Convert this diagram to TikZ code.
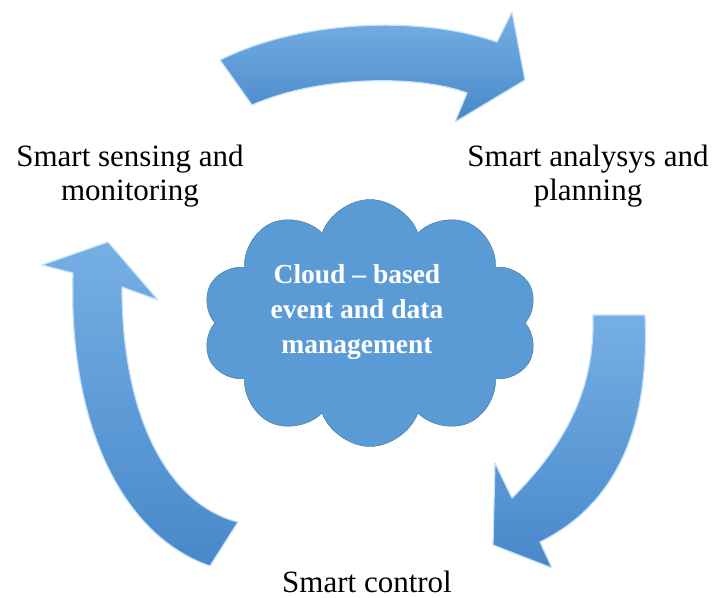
\documentclass[tikz,border=0pt]{standalone}
\usepackage{fontspec}
\setmainfont{Liberation Serif}
\usepackage{tikz}
\usetikzlibrary{shapes.symbols,positioning}

\definecolor{arrowtop}{RGB}{118,175,228}
\definecolor{arrowbot}{RGB}{72,136,202}
\definecolor{arrowrim}{RGB}{198,226,250}
\definecolor{cloudfill}{RGB}{91,155,213}
\definecolor{cloudrim}{RGB}{65,113,156}

\begin{document}
\begin{tikzpicture}[x=1pt,y=-1pt,line join=round]
\tikzstyle{every node}=[font=\fontsize{31}{34}\selectfont]
\tikzstyle{bigarrow}=[top color=arrowtop,bottom color=arrowbot,draw=arrowrim,line width=1.2pt]
\tikzstyle{stage}=[align=center,inner sep=0pt]

\useasboundingbox (0,0) rectangle (716,598);

        % the three curved arrows
        \path[bigarrow] (220,60) .. controls (300,20) and (420,15) .. (497,42)
            -- (512,12) -- (525,80) -- (455,122) -- (467,93)
            .. controls (420,75) and (320,75) .. (252,105) -- cycle;

        \path[bigarrow] (645,315) .. controls (650,430) and (615,505) .. (540,542)
            -- (552,568) -- (493,545) -- (495,463) -- (512,498)
            .. controls (565,445) and (595,390) .. (593,315) -- cycle;

        \path[bigarrow] (108,242) -- (158,300) -- (122,287)
            .. controls (122,420) and (170,505) .. (238,522)
            -- (210,566) .. controls (120,535) and (68,420) .. (73,273)
            -- (42,265) -- cycle;

        % cloud in the middle
        \node[cloud, cloud puffs=10, cloud puff arc=140, cloud ignores aspect, fill=cloudfill, draw=cloudrim,
              minimum width=336pt, minimum height=247pt, inner sep=0pt] (cloud) at (370,323) {};
        \node[align=center, text=white, font=\fontsize{27.5}{35}\selectfont\bfseries]
              (cloudtxt) at (357,312) {Cloud -- based\\event and data\\management};

        \node[stage] (sense)   at (130,176) {Smart sensing and\\monitoring};
        \node[stage] (plan)    at (588,176) {Smart analysys and\\planning};
        \node[stage] (control) at (367,582) {Smart control};

\end{tikzpicture}
\end{document}
